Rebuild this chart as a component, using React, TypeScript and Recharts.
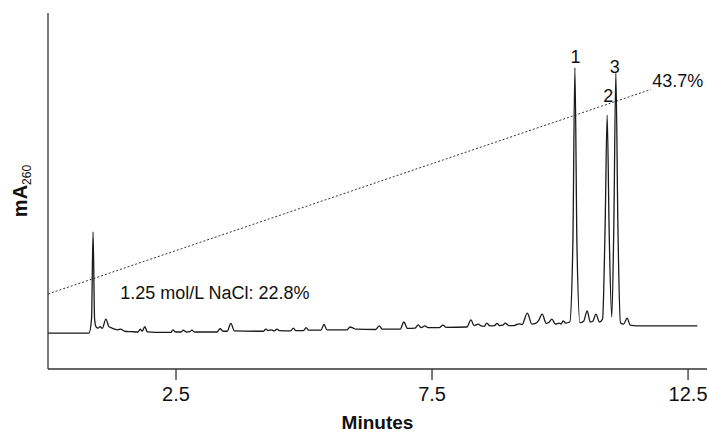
import { LineChart, Line, XAxis, YAxis, ReferenceDot } from 'recharts';

// chromatogram trace (minutes, mA260)
const traceTime = [
  0, 0.8, 0.85, 0.88, 0.91, 0.94, 0.98, 1.02, 1.06, 1.13, 1.19, 1.25, 1.3, 1.36,
  1.42, 1.5, 1.62, 1.76, 1.8, 1.84, 1.89, 1.94, 2.1, 2.4, 2.44, 2.49, 2.6, 2.64,
  2.7, 2.77, 2.81, 2.86, 3.3, 3.36, 3.42, 3.5, 3.57, 3.64, 4.2, 4.26, 4.3, 4.36,
  4.42, 4.47, 4.52, 4.74, 4.79, 4.84, 4.99, 5.04, 5.09, 5.33, 5.39, 5.45, 5.84,
  5.9, 5.96, 6.01, 6.4, 6.47, 6.53, 6.88, 6.95, 7.02, 7.17, 7.23, 7.29, 7.36,
  7.42, 7.64, 7.71, 7.78, 8.18, 8.26, 8.32, 8.4, 8.46, 8.52, 8.57, 8.63, 8.72,
  8.77, 8.82, 8.88, 8.93, 9.0, 9.1, 9.2, 9.26, 9.36, 9.45, 9.52, 9.58, 9.65,
  9.73, 9.79, 9.84, 9.91, 9.98, 10.02, 10.06, 10.11, 10.19, 10.25, 10.29, 10.33,
  10.39, 10.46, 10.53, 10.59, 10.64, 10.7, 10.77, 10.83, 10.88, 10.92, 10.96,
  11.01, 11.05, 11.09, 11.13, 11.18, 11.24, 11.31, 11.37, 11.5, 12.68,
];
const traceMA = [
  10.1, 10.1, 14, 38.5, 14, 11.8, 11.5, 11.9, 11.4, 14.0, 11.9, 11.5, 11.2, 11.0,
  11.2, 10.6, 10.5, 10.4, 11.2, 10.6, 11.9, 10.4, 10.3, 10.3, 11.0, 10.4, 10.4, 10.9,
  10.4, 10.5, 10.9, 10.4, 10.4, 11.3, 10.6, 10.6, 12.8, 10.7, 10.6, 11.2, 10.8, 11.0,
  10.7, 11.2, 10.8, 10.7, 11.5, 10.8, 10.8, 11.6, 10.9, 10.9, 12.5, 11.0, 11.0,
  11.8, 11.5, 11.2, 11.1, 12.1, 11.2, 11.2, 13.2, 11.4, 11.5, 12.4, 11.6, 12.1,
  11.6, 11.6, 12.3, 11.7, 11.8, 13.8, 12.2, 12.6, 12.1, 12.0, 12.9, 12.1, 12.2,
  12.8, 12.2, 12.3, 12.9, 12.2, 12.2, 12.7, 12.5, 15.7, 12.6, 12.8, 13.6, 15.4,
  12.8, 13.2, 14.0, 12.6, 12.9, 12.6, 13.5, 12.9, 13.2, 35, 84.6, 35,
  13.0, 13.4, 16.3, 13.2, 13.4, 15.4, 13.2, 14.0, 40, 71.3, 38,
  14.6, 40, 83.1, 40, 13.0, 12.6, 14.3, 12.3, 12.1, 12.1,
];

// NaCl gradient (% of 1.25 mol/L)
const gradientTime = [0, 11.77];
const gradientPct = [22.8, 43.7];
const gradientNotes = ['1.25 mol/L NaCl: 22.8%', '43.7%'];
const noteTime = [1.41, 11.8];
const notePct = [22.28, 43.95];

const peakNames = ['1', '2', '3'];
const peakLabelTime = [10.3, 10.94, 11.07];
const peakLabelMA = [86.0, 75.0, 83.1];

const xTicks = [2.5, 7.5, 12.5];

const traceData = traceTime.map((t, i) => ({ t, mA: traceMA[i] }));
const gradientData = gradientTime.map((t, i) => ({ t, pct: gradientPct[i] }));

const FONT = '"Liberation Sans", Arial, Helvetica, sans-serif';

const noteText = (text: string) => (props: any) => {
  const { viewBox } = props;
  return (
    <text x={viewBox.x} y={viewBox.y} fontSize={18} fontFamily={FONT} fill="#111">
      {text}
    </text>
  );
};

const peakText = (text: string) => (props: any) => {
  const { viewBox } = props;
  return (
    <text x={viewBox.x} y={viewBox.y} textAnchor="middle" fontSize={18} fontFamily={FONT} fill="#111">
      {text}
    </text>
  );
};

const YTitle = (props: any) => {
  const { viewBox } = props;
  const cy = viewBox.y + viewBox.height / 2;
  return (
    <text
      transform={`translate(27, ${cy}) rotate(-90)`}
      textAnchor="middle"
      fontFamily={FONT}
      fill="#111"
    >
      <tspan fontSize={20} fontWeight="bold">mA</tspan>
      <tspan fontSize={12} dy={4}>260</tspan>
    </text>
  );
};

const XTitle = (props: any) => {
  const { viewBox } = props;
  return (
    <text
      x={viewBox.x + viewBox.width / 2}
      y={429}
      textAnchor="middle"
      fontFamily={FONT}
      fontSize={19}
      fontWeight="bold"
      fill="#111"
    >
      Minutes
    </text>
  );
};

export default function App() {
  return (
    <div style={{ position: 'absolute', left: 0, top: 0 }}>
      <LineChart
        width={707}
        height={437}
        margin={{ top: 13, right: 0, bottom: 0, left: 8 }}
        style={{ fontFamily: FONT, overflow: 'visible' }}
      >
        <XAxis
          type="number"
          dataKey="t"
          domain={[0, 12.87]}
          ticks={xTicks}
          allowDataOverflow
          height={68}
          tickSize={11}
          tickMargin={7}
          axisLine={{ stroke: '#333', strokeWidth: 1.3 }}
          tickLine={{ stroke: '#333', strokeWidth: 1.3 }}
          tick={{ fontSize: 20, fill: '#111', fontFamily: FONT }}
          label={{ content: XTitle }}
        />
        <YAxis
          yAxisId="mA"
          type="number"
          domain={[0, 100]}
          allowDataOverflow
          width={40}
          tick={false}
          tickLine={false}
          axisLine={{ stroke: '#333', strokeWidth: 1.3 }}
          label={{ content: YTitle }}
        />
        <YAxis yAxisId="pct" orientation="right" hide domain={[15.13, 51.52]} allowDataOverflow />

        {/* gradient */}
        <Line
          yAxisId="pct"
          data={gradientData}
          dataKey="pct"
          type="linear"
          stroke="#333"
          strokeWidth={1}
          strokeDasharray="2 2"
          dot={false}
          isAnimationActive={false}
        />

        {/* absorbance trace */}
        <Line
          yAxisId="mA"
          data={traceData}
          dataKey="mA"
          type="monotone"
          stroke="#1a1a1a"
          strokeWidth={1.3}
          dot={false}
          isAnimationActive={false}
        />

        {gradientNotes.map((n, i) => (
          <ReferenceDot
            key={n}
            yAxisId="pct"
            x={noteTime[i]}
            y={notePct[i]}
            r={0}
            fill="none"
            stroke="none"
            label={{ content: noteText(n) }}
          />
        ))}
        {peakNames.map((n, i) => (
          <ReferenceDot
            key={n}
            yAxisId="mA"
            x={peakLabelTime[i]}
            y={peakLabelMA[i]}
            r={0}
            fill="none"
            stroke="none"
            label={{ content: peakText(n) }}
          />
        ))}
      </LineChart>
    </div>
  );
}
